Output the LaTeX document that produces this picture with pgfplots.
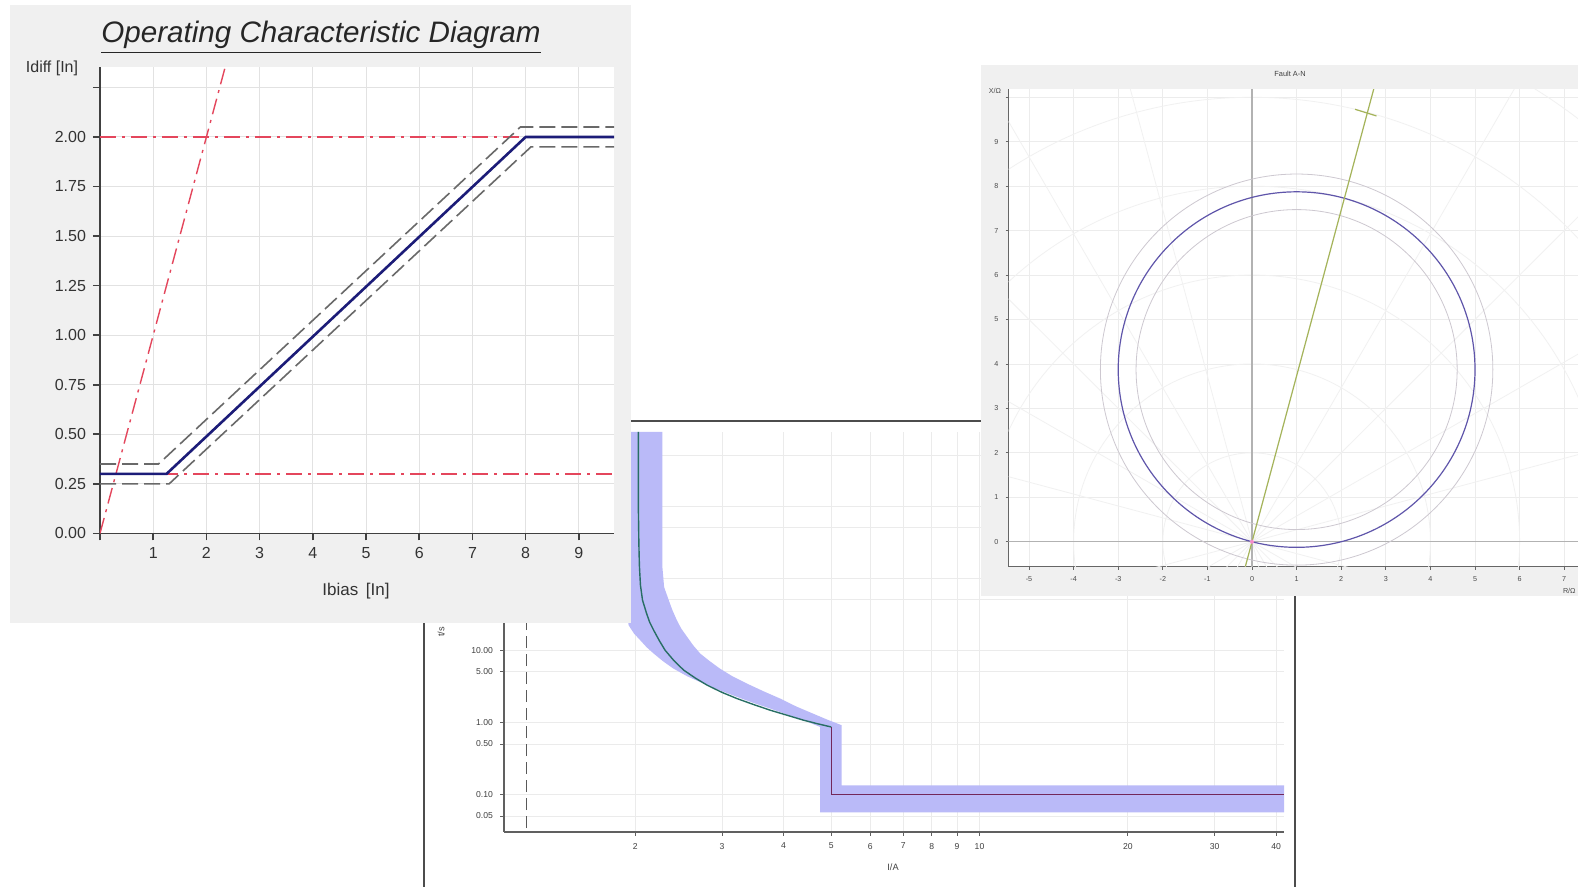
\documentclass[border=0pt]{standalone}
\usepackage{fontspec}
\setmainfont{Liberation Sans}
\usepackage{pgfplots}
\pgfplotsset{compat=1.18}
\definecolor{panelgray}{RGB}{240,240,240}
\definecolor{gridc}{RGB}{226,226,226}
\definecolor{axisdark}{RGB}{64,64,64}
\definecolor{navyc}{RGB}{28,28,120}
\definecolor{dashgray}{RGB}{105,105,105}
\definecolor{redline}{RGB}{228,70,92}
\definecolor{bandc}{RGB}{186,186,248}
\definecolor{tealc}{RGB}{40,110,100}
\definecolor{maroonc}{RGB}{115,40,90}
\definecolor{mhoc}{RGB}{95,85,170}
\definecolor{tolc}{RGB}{205,200,208}
\definecolor{charc}{RGB}{165,180,90}
\begin{document}
\begin{tikzpicture}
\useasboundingbox (0pt,0pt) rectangle (789pt,443.5pt);
\clip (0pt,0pt) rectangle (789pt,443.5pt);
\begin{scope}[x=0.5pt,y=0.5pt]
\fill[white] (0,0) rectangle (1578,887);
% Panel 2 frame
\fill[white] (424,0) rectangle (1295,466);
\draw[gray!60!black, line width=0.6pt] (424,0) -- (424,466) -- (1295,466) -- (1295,0);
\end{scope}

% ---------------- Panel 2 (bottom middle, log-log) ----------------
\begin{axis}[
  at={(252pt,27.5pt)}, anchor=south west, scale only axis,
  width=390pt, height=200pt,
  xmode=log, ymode=log,
  xmin=1.0835, xmax=41.5, ymin=0.03, ymax=10660,
  axis x line*=bottom, axis y line*=left,
  axis line style={-, draw=gray!75!black, line width=0.6pt},
  xtick={2,3,4,5,6,7,8,9,10,20,30,40},
  xticklabels={2,3,4,5,6,7,8,9,10,20,30,40},
  ytick={0.05,0.1,0.5,1,5,10,50,100,500,1000,5000},
  yticklabels={0.05,0.10,0.50,1.00,5.00,10.00,50.00,100.00,500.00,1000.00,5000.00},
  grid=major, major grid style={draw=gray!16, line width=0.4pt},
  tick align=outside, major tick length=2pt,
  tick style={draw=gray!75!black, line width=0.4pt},
  ticklabel style={font=\fontsize{4.3}{5}\selectfont, text=black!75},
  /pgf/number format/assume math mode=true,
]
\addplot[fill=bandc, draw=none] coordinates {
 (1.85,10660) (1.86,1000) (1.88,200) (1.91,60) (1.94,22.2) (1.99,17.0) (2.047,13.8)
 (2.11,11.0) (2.18,9.0) (2.28,7.0) (2.39,5.57) (2.55,4.35) (2.75,3.45) (2.98,2.75)
 (3.22,2.25) (3.48,1.85) (3.76,1.55) (4.07,1.28) (4.39,1.07) (4.58,0.95)
 (4.75,0.86) (4.75,0.056) (41.5,0.056) (41.5,0.133) (5.25,0.133) (5.25,0.91)
 (4.92,1.08) (4.59,1.32) (4.25,1.65) (3.94,2.13) (3.64,2.7) (3.37,3.45) (3.15,4.35)
 (2.97,5.57) (2.83,7.1) (2.71,9.0) (2.62,11.8) (2.55,15.3) (2.48,20.0)
 (2.43,26.1) (2.38,36) (2.34,49.4) (2.29,75) (2.27,150) (2.27,10660)} -- cycle;
\addplot[tealc, line width=0.7pt] coordinates {
 (2.03,10660) (2.03,1000) (2.035,300) (2.04,150) (2.05,80) (2.07,49.4)
 (2.11,32.3) (2.14,24.5) (2.18,19.0) (2.24,13.5) (2.30,10) (2.40,7.1) (2.51,5.28)
 (2.65,4.1) (2.80,3.27) (3.0,2.6) (3.22,2.13) (3.48,1.76) (3.76,1.47) (4.07,1.25)
 (4.39,1.07) (4.7,0.95) (5.0,0.86)};
\addplot[maroonc, line width=0.7pt] coordinates {(5,0.86) (5,0.1) (41.5,0.1)};
\addplot[gray!70!black, line width=0.5pt, dash pattern=on 6pt off 3pt] coordinates {(1.206,0.034) (1.206,10660)};
\end{axis}

\begin{scope}[x=0.5pt,y=0.5pt]
\node[font=\fontsize{4.6}{5}\selectfont, text=black!75] at (893,20) {I/A};
\node[font=\fontsize{4.6}{5}\selectfont, text=black!75, rotate=90] at (441,255) {t/s};
% Panel 1 background
\fill[panelgray] (10,264) rectangle (631,882);
\end{scope}

% ---------------- Panel 1 (top left) ----------------
\begin{axis}[
  at={(50pt,176.8pt)}, anchor=south west, scale only axis,
  width=257pt, height=233.2pt,
  xmin=0, xmax=9.66, ymin=0, ymax=2.353,
  axis background/.style={fill=white},
  axis x line*=bottom, axis y line*=left,
  axis line style={-, draw=axisdark, line width=0.8pt},
  xtick={0,1,2,3,4,5,6,7,8,9}, xticklabels={,1,2,3,4,5,6,7,8,9},
  ytick={0,0.25,0.5,0.75,1,1.25,1.5,1.75,2,2.25},
  yticklabels={0.00,0.25,0.50,0.75,1.00,1.25,1.50,1.75,2.00,},
  grid=major, major grid style={draw=gridc, line width=0.5pt},
  tick align=outside, major tick length=3.5pt,
  tick style={draw=axisdark, line width=0.8pt},
  ticklabel style={font=\fontsize{8}{9}\selectfont, text=black!80},
  /pgf/number format/assume math mode=true,
]
\addplot[redline, line width=0.7pt, dash pattern=on 8pt off 3pt on 1.5pt off 3pt] coordinates {(0,2) (9.66,2)};
\addplot[redline, line width=0.7pt, dash pattern=on 8pt off 3pt on 1.5pt off 3pt] coordinates {(0,0.3) (9.66,0.3)};
\addplot[redline, line width=0.7pt, dash pattern=on 8pt off 3pt on 1.5pt off 3pt] coordinates {(0,0) (2.36,2.36)};
\addplot[dashgray, line width=0.8pt, dash pattern=on 8pt off 3pt] coordinates {(0,0.35) (1.1,0.35) (7.9,2.05) (9.66,2.05)};
\addplot[dashgray, line width=0.8pt, dash pattern=on 8pt off 3pt] coordinates {(0,0.25) (1.3,0.25) (8.1,1.95) (9.66,1.95)};
\addplot[navyc, line width=1.3pt] coordinates {(0,0.3) (1.25,0.3) (8,2) (9.66,2)};
\end{axis}

\begin{scope}[x=0.5pt,y=0.5pt]
\node[anchor=base, font=\fontsize{14.8}{16}\selectfont\itshape, text=black!85] at (321,844) {\underline{Operating Characteristic Diagram}};
\node[font=\fontsize{8.5}{10}\selectfont, text=black!80] at (356,296) {Ibias\, [In]};
\node[font=\fontsize{8}{10}\selectfont, text=black!80] at (52,818.5) {Idiff [In]};
% Panel 3 background
\fill[panelgray] (981,291) rectangle (1578,822);
\end{scope}

% ---------------- Panel 3 (top right, impedance plane) ----------------
\begin{axis}[
  at={(504.25pt,160.15pt)}, anchor=south west, scale only axis,
  width=289pt, height=238.7pt,
  xmin=-5.46, xmax=7.5, ymin=-0.5625, ymax=10.18,
  axis background/.style={fill=white},
  axis x line*=bottom, axis y line*=left,
  axis line style={-, draw=gray!80!black, line width=0.5pt},
  xtick={-5,-4,-3,-2,-1,0,1,2,3,4,5,6,7}, ytick={0,1,2,3,4,5,6,7,8,9,10},
  yticklabels={0,1,2,3,4,5,6,7,8,9,},
  grid=major, major grid style={draw=gray!15, line width=0.4pt},
  tick align=outside, major tick length=1.5pt,
  tick style={draw=gray!80!black, line width=0.4pt},
  ticklabel style={font=\fontsize{3.6}{4}\selectfont, text=black!70},
  /pgf/number format/assume math mode=true,
]
\pgfplotsinvokeforeach{2,4,6,8,10,12,14}{
  \draw[gray!11, line width=0.4pt] (axis cs:0,0) circle[radius=#1];
}
\pgfplotsinvokeforeach{0,15,30,45,60,75,90,105,120,135,150,165,180,195,210,225,240,255,270,285,300,315,330,345}{
  \draw[gray!11, line width=0.4pt] (axis cs:0,0) -- (axis cs:{15*cos(#1)},{15*sin(#1)});
}
\addplot[gray!60, line width=0.6pt] coordinates {(-5.46,0) (7.5,0)};
\addplot[gray!60, line width=0.6pt] coordinates {(0,-0.5625) (0,10.18)};
\draw[tolc, line width=0.4pt] (axis cs:1,3.873) circle[radius=4.4];
\draw[tolc, line width=0.4pt] (axis cs:1,3.873) circle[radius=3.6];
\draw[mhoc, line width=0.6pt] (axis cs:1,3.873) circle[radius=4];
\addplot[charc, line width=0.6pt] coordinates {(-0.15,-0.56) (2.76,10.3)};
\addplot[charc, line width=0.6pt] coordinates {(2.31,9.73) (2.79,9.58)};
\addplot[only marks, mark=*, mark size=0.9pt, magenta!45] coordinates {(0,0)};
\end{axis}

\begin{scope}[x=0.5pt,y=0.5pt]
\node[font=\fontsize{3.7}{4}\selectfont, text=black!75] at (1290,813.5) {Fault A-N};
\node[font=\fontsize{3.6}{4}\selectfont, text=black!70] at (995,796) {X/Ω};
\node[anchor=east, font=\fontsize{3.6}{4}\selectfont, text=black!70, inner sep=0.5pt] at (1577,296) {R/Ω};
\end{scope}
\end{tikzpicture}
\end{document}
